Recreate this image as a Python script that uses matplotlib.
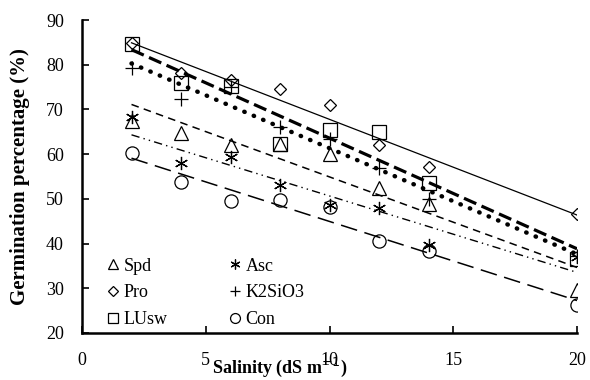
import numpy as np
import matplotlib
matplotlib.use("Agg")
import matplotlib.pyplot as plt

plt.rcParams['font.family'] = ['Liberation Serif', 'DejaVu Serif']

# salinity levels
sal = [2, 4, 6, 8, 10, 12, 14, 20]

# germination percentage for each treatment
spd = [67.5, 64.8, 62.0, 62.3, 60.0, 52.5, 48.8, 29.5]
pro = [84.8, 78.1, 76.7, 74.6, 71.0, 62.0, 57.2, 46.5]
lusw = [84.6, 75.9, 75.3, 62.3, 65.4, 65.0, 53.6, 36.5]
asc = [68.3, 58.0, 59.4, 53.0, 48.6, 48.0, 39.7, 37.0]
k2 = [79.3, 72.3, 75.0, 66.0, 63.5, 56.8, 50.0, 37.2]
con = [60.2, 53.7, 49.5, 49.8, 48.2, 40.6, 38.4, 26.2]

fig = plt.figure(figsize=(5.9, 3.8), dpi=100)
ax = fig.add_axes([0.139, 0.124, 0.839, 0.823])

series = [
    ('Spd', spd, '^', (0, (5, 3.5)), 1.1),
    ('Pro', pro, 'D', '-', 0.9),
    ('LUsw', lusw, 's', (0, (4.2, 1.8)), 2.3),
    ('Asc', asc, (6, 2, 0), (0, (6, 3, 1, 3, 1, 3)), 1.0),
    ('K2SiO3', k2, '+', (0, (0.1, 2.2)), 3.2),
    ('Con', con, 'o', (0, (11, 5)), 1.1),
]

x = np.array(sal)
for name, y, m, ls, lw in series:
    ms = 6.5 if m == 'D' else 9.5
    ax.plot(sal, y, linestyle='none', marker=m, ms=ms, mfc='none',
            mec='black', mew=0.9, label=name, zorder=3)
    # linear trend line
    a, b = np.polyfit(x, y, 1)
    xx = np.array([2, 20])
    ax.plot(xx, a * xx + b, color='black', linestyle=ls, lw=lw,
            dash_capstyle='round' if name == 'K2SiO3' else 'butt', zorder=2)

ax.set_xlim(0, 20)
ax.set_ylim(20, 90)
ax.set_xticks([0, 5, 10, 15, 20])
ax.set_yticks(range(20, 91, 10))
ax.tick_params(direction='in', length=5, width=1.2, labelsize=13)
ax.tick_params(axis='x', pad=14)
ax.tick_params(axis='y', pad=13)
for s in ['top', 'right']:
    ax.spines[s].set_visible(False)
for s in ['left', 'bottom']:
    ax.spines[s].set_linewidth(1.8)

ax.set_xlabel('Salinity (dS m$^{-1}$)', fontsize=13, fontweight='bold')
ax.xaxis.set_label_coords(0.4, -0.072)
ax.set_ylabel('Germination percentage (%)', fontsize=15, fontweight='bold')
ax.yaxis.set_label_coords(-0.105, 0.5)

ax.legend(ncol=2, loc='lower left', bbox_to_anchor=(0.048, 0.016),
          frameon=False, fontsize=13, markerscale=0.75,
          handlelength=0.8, handletextpad=0.2, columnspacing=3.3,
          labelspacing=0.53, borderaxespad=0, borderpad=0)

fig.savefig('out.png')
